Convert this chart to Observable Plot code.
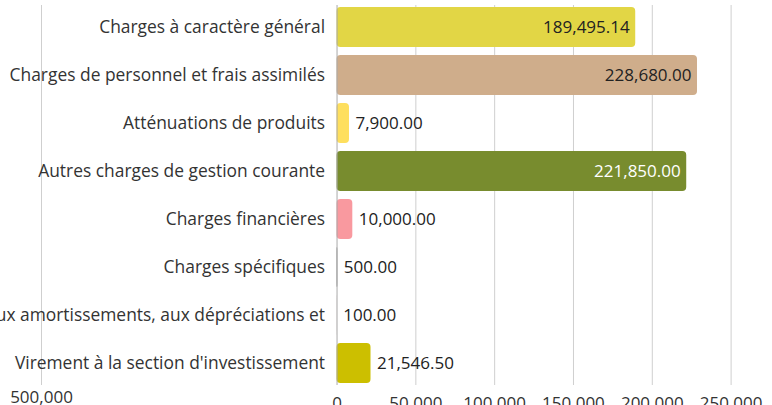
<!DOCTYPE html>
<html>
<head>
<meta charset="utf-8">
<script src="https://cdn.jsdelivr.net/npm/d3@7"></script>
<script src="https://cdn.jsdelivr.net/npm/@observablehq/plot@0.6"></script>
<style>
  html, body { margin: 0; padding: 0; background: #fff; }
  #chart svg { display: block; }
</style>
</head>
<body>
<div id="chart"></div>
<script>
const categories = [
  "Charges à caractère général",
  "Charges de personnel et frais assimilés",
  "Atténuations de produits",
  "Autres charges de gestion courante",
  "Charges financières",
  "Charges spécifiques",
  "Dotations aux amortissements, aux dépréciations et",
  "Virement à la section d'investissement"
];
const values = [189495.14, 228680.00, 7900.00, 221850.00, 10000.00, 500.00, 100.00, 21546.50];
const barColors = ["#e2d645", "#cfad8b", "#fedf5e", "#788c2e", "#f9999f", "#7a7a7a", "#b8a4a4", "#ccbf00"];
const insideLabelColors = ["#222222", "#222222", "#222222", "#ffffff", "#222222", "#222222", "#222222", "#222222"];
const tickValues = [0, 50000, 100000, 150000, 200000, 250000];
const strayTick = { value: -187500, label: "500,000" };

const data = categories.map((c, i) => ({
  category: c,
  value: values[i],
  color: barColors[i],
  labelColor: insideLabelColors[i],
  inside: values[i] > 50000
}));

const fmtVal = d3.format(",.2f");
const font = "'Open Sans', sans-serif";
const fs = 17;
const fsCat = 17.4;

const chart = Plot.plot({
  width: 772,
  height: 405,
  marginTop: 5,
  marginBottom: 20,
  marginLeft: 41,
  marginRight: 2,
  style: { fontFamily: font, fontSize: fs + "px", color: "#333", background: "#fff" },
  x: { domain: [strayTick.value, 275000], axis: null, label: null },
  y: { domain: categories, paddingInner: 0.16, paddingOuter: 0, axis: null, label: null },
  marks: [
    Plot.ruleX([strayTick.value, ...tickValues.slice(1)], { stroke: "#cfcfcf", strokeWidth: 1 }),
    Plot.barX(data, { x1: () => 0, x2: "value", y: "category", fill: "color", rx: 4 }),
    Plot.ruleX([0], { stroke: "#aaaaaa", strokeWidth: 1 }),
    Plot.text(data, {
      x: () => 0, y: "category", text: "category",
      textAnchor: "end", dx: -12, fill: "#333", fontSize: fsCat
    }),
    Plot.text(data.filter(d => d.inside), {
      x: "value", y: "category", text: d => fmtVal(d.value),
      textAnchor: "end", dx: -6, fill: "labelColor", fontSize: fs
    }),
    Plot.text(data.filter(d => !d.inside), {
      x: "value", y: "category", text: d => fmtVal(d.value),
      textAnchor: "start", dx: 6, fill: "#222", fontSize: fs
    }),
    Plot.axisX(tickValues, {
      tickSize: 0, tickPadding: 11, tickFormat: d3.format(","), fontSize: fs, fill: "#333", label: null
    }),
    Plot.text([strayTick], {
      x: "value", text: "label", frameAnchor: "bottom", lineAnchor: "top",
      dy: 5, fill: "#333", fontSize: fs
    })
  ]
});

document.getElementById("chart").appendChild(chart);
</script>
</body>
</html>
